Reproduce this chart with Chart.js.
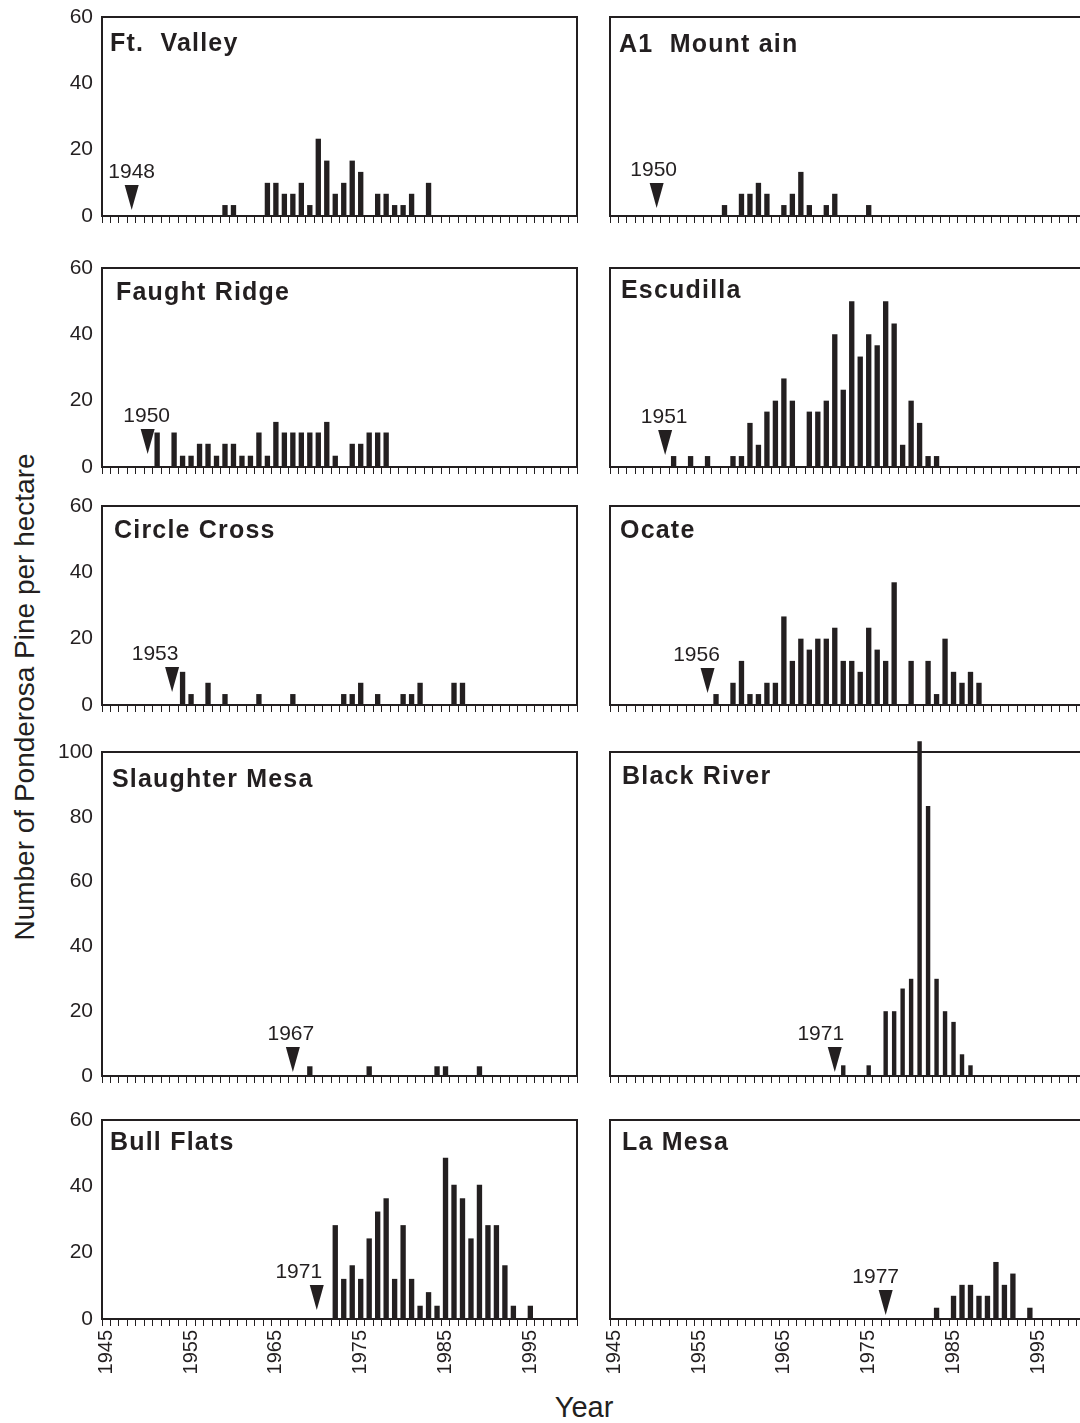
<!DOCTYPE html>
<html>
<head>
<meta charset="utf-8">
<script src="https://cdn.jsdelivr.net/npm/chart.js@4.4.0/dist/chart.umd.min.js"></script>
<style>
  html, body { margin: 0; padding: 0; background: #fff; overflow: hidden; }
  body { width: 1080px; height: 1423px; position: relative; font-family: 'Liberation Sans', Arial, Helvetica, sans-serif; color: #231f20; }
  canvas { position: absolute; }
  .ytitle { position: absolute; left: 25px; top: 697px; transform: translate(-50%, -50%) rotate(-90deg); font-size: 28px; white-space: nowrap; }
  .xtitle { position: absolute; left: 584px; top: 1407px; transform: translate(-50%, -50%); font-size: 29px; white-space: nowrap; }
</style>
</head>
<body>
<div class="ytitle">Number of Ponderosa Pine per hectare</div>
<div class="xtitle">Year</div>
<script>
// categories: one per year
const years = [1945, 1946, 1947, 1948, 1949, 1950, 1951, 1952, 1953, 1954,
  1955, 1956, 1957, 1958, 1959, 1960, 1961, 1962, 1963, 1964,
  1965, 1966, 1967, 1968, 1969, 1970, 1971, 1972, 1973, 1974,
  1975, 1976, 1977, 1978, 1979, 1980, 1981, 1982, 1983, 1984,
  1985, 1986, 1987, 1988, 1989, 1990, 1991, 1992, 1993, 1994,
  1995, 1996, 1997, 1998, 1999, 2000];
const xTickLabels = ['1945', '1955', '1965', '1975', '1985', '1995'];
const yTicksShort = [0, 20, 40, 60];
const yTicksTall = [0, 20, 40, 60, 80, 100];

const siteNames = ['Ft.  Valley', 'A1  Mount ain', 'Faught Ridge', 'Escudilla', 'Circle Cross',
  'Ocate', 'Slaughter Mesa', 'Black River', 'Bull Flats', 'La Mesa'];
const firstYears = [1948, 1950, 1950, 1951, 1953, 1956, 1967, 1971, 1971, 1977];

const ftValleyYears = [1959, 1960, 1964, 1965, 1966, 1967, 1968, 1969, 1970, 1971, 1972, 1973, 1974, 1975, 1977, 1978, 1979, 1980, 1981, 1983];
const ftValleyValues = [3.3, 3.3, 10, 10, 6.7, 6.7, 10, 3.3, 23.3, 16.7, 6.7, 10, 16.7, 13.3, 6.7, 6.7, 3.3, 3.3, 6.7, 10];

const a1MountainYears = [1958, 1960, 1961, 1962, 1963, 1965, 1966, 1967, 1968, 1970, 1971, 1975];
const a1MountainValues = [3.3, 6.7, 6.7, 10, 6.7, 3.3, 6.7, 13.3, 3.3, 3.3, 6.7, 3.3];

const faughtYears = [1951, 1953, 1954, 1955, 1956, 1957, 1958, 1959, 1960, 1961, 1962, 1963, 1964, 1965, 1966, 1967, 1968, 1969, 1970, 1971, 1972, 1974, 1975, 1976, 1977, 1978];
const faughtValues = [10.4, 10.4, 3.4, 3.4, 7, 7, 3.4, 7, 7, 3.4, 3.4, 10.4, 3.4, 13.6, 10.4, 10.4, 10.4, 10.4, 10.4, 13.6, 3.4, 7, 7, 10.4, 10.4, 10.4];

const escudillaYears = [1952, 1954, 1956, 1959, 1960, 1961, 1962, 1963, 1964, 1965, 1966, 1968, 1969, 1970, 1971, 1972, 1973, 1974, 1975, 1976, 1977, 1978, 1979, 1980, 1981, 1982, 1983];
const escudillaValues = [3.3, 3.3, 3.3, 3.3, 3.3, 13.3, 6.7, 16.7, 20, 26.7, 20, 16.7, 16.7, 20, 40, 23.3, 50, 33.3, 40, 36.7, 50, 43.3, 6.7, 20, 13.3, 3.3, 3.3];

const circleCrossYears = [1954, 1955, 1957, 1959, 1963, 1967, 1973, 1974, 1975, 1977, 1980, 1981, 1982, 1986, 1987];
const circleCrossValues = [10, 3.3, 6.7, 3.3, 3.3, 3.3, 3.3, 3.3, 6.7, 3.3, 3.3, 3.3, 6.7, 6.7, 6.7];

const ocateYears = [1957, 1959, 1960, 1961, 1962, 1963, 1964, 1965, 1966, 1967, 1968, 1969, 1970, 1971, 1972, 1973, 1974, 1975, 1976, 1977, 1978, 1980, 1982, 1983, 1984, 1985, 1986, 1987, 1988];
const ocateValues = [3.3, 6.7, 13.3, 3.3, 3.3, 6.7, 6.7, 26.7, 13.3, 20, 16.7, 20, 20, 23.3, 13.3, 13.3, 10, 23.3, 16.7, 13.3, 37, 13.3, 13.3, 3.3, 20, 10, 6.7, 10, 6.7];

const slaughterYears = [1969, 1976, 1984, 1985, 1989];
const slaughterValues = [3, 3, 3, 3, 3];

const blackRiverYears = [1972, 1975, 1977, 1978, 1979, 1980, 1981, 1982, 1983, 1984, 1985, 1986, 1987];
const blackRiverValues = [3.3, 3.3, 20, 20, 27, 30, 103.3, 83.3, 30, 20, 16.7, 6.7, 3.3];

const bullFlatsYears = [1972, 1973, 1974, 1975, 1976, 1977, 1978, 1979, 1980, 1981, 1982, 1983, 1984, 1985, 1986, 1987, 1988, 1989, 1990, 1991, 1992, 1993, 1995];
const bullFlatsValues = [28.3, 12.1, 16.2, 12.1, 24.3, 32.4, 36.4, 12.1, 28.3, 12.1, 4, 8.1, 4, 48.6, 40.5, 36.4, 24.3, 40.5, 28.3, 28.3, 16.2, 4, 4];

const laMesaYears = [1983, 1985, 1986, 1987, 1988, 1989, 1990, 1991, 1992, 1994];
const laMesaValues = [3.4, 7, 10.3, 10.3, 7, 7, 17.2, 10.3, 13.7, 3.4];

const INK = '#231f20';
const FONT = "'Liberation Sans', Arial, Helvetica, sans-serif";
Chart.defaults.font.family = FONT;
Chart.defaults.color = INK;

// page layout of the plot boxes
const colLeft = [102, 610];
const rowBox = [[17, 216], [268, 467], [506, 705], [752, 1076], [1120, 1319]];
const PLOT_W = 475;
const AXIS_W = 62, PAD_TOP = 20, PAD_RIGHT = 10;

// tx/ty: site name offset, lift: marker tip above axis,
// mdx: marker shift from its year, ldx: year text shift from its year
const panels = [
  { yrs: ftValleyYears, vals: ftValleyValues, col: 0, row: 0, tx: 8, ty: 34, lift: 6, mdx: 0, ldx: 0 },
  { yrs: a1MountainYears, vals: a1MountainValues, col: 1, row: 0, tx: 9, ty: 35, lift: 8, mdx: 0, ldx: -3 },
  { yrs: faughtYears, vals: faughtValues, col: 0, row: 1, tx: 14, ty: 32, lift: 13, mdx: -1, ldx: -2 },
  { yrs: escudillaYears, vals: escudillaValues, col: 1, row: 1, tx: 11, ty: 30, lift: 12, mdx: 0, ldx: -1 },
  { yrs: circleCrossYears, vals: circleCrossValues, col: 0, row: 2, tx: 12, ty: 32, lift: 13, mdx: -2, ldx: -19 },
  { yrs: ocateYears, vals: ocateValues, col: 1, row: 2, tx: 10, ty: 32, lift: 12, mdx: 0, ldx: -11 },
  { yrs: slaughterYears, vals: slaughterValues, col: 0, row: 3, tx: 10, ty: 35, lift: 4, mdx: 0, ldx: -2, tall: true },
  { yrs: blackRiverYears, vals: blackRiverValues, col: 1, row: 3, tx: 12, ty: 32, lift: 4, mdx: 0, ldx: -14, tall: true, thin: true },
  { yrs: bullFlatsYears, vals: bullFlatsValues, col: 0, row: 4, tx: 8, ty: 30, lift: 9, mdx: -10, ldx: -28 },
  { yrs: laMesaYears, vals: laMesaValues, col: 1, row: 4, tx: 12, ty: 30, lift: 4, mdx: 0, ldx: -10 }
];

const framePlugin = {
  id: 'frame',
  beforeDatasetsDraw(chart) {
    const { ctx, chartArea: a } = chart;
    ctx.save();
    ctx.strokeStyle = INK;
    ctx.lineWidth = 2;
    ctx.strokeRect(a.left, a.top, a.right - a.left, a.bottom - a.top);
    ctx.restore();
  }
};

const labelPlugin = {
  id: 'siteLabel',
  afterDatasetsDraw(chart, args, opts) {
    const { ctx, chartArea: a } = chart;
    const xs = chart.scales.x, ys = chart.scales.y;
    ctx.save();
    ctx.fillStyle = INK;
    // site name
    ctx.font = 'bold 25px ' + FONT;
    ctx.letterSpacing = '1.2px';
    ctx.textAlign = 'left';
    ctx.textBaseline = 'alphabetic';
    ctx.fillText(opts.name, a.left + opts.tx, a.top + opts.ty);
    // first-year marker
    const cx = xs.getPixelForValue(years.indexOf(opts.year));
    const x = cx + opts.mdx;
    const tip = ys.getPixelForValue(0) - opts.lift;
    const top = tip - 25;
    ctx.beginPath();
    ctx.moveTo(x - 7, top);
    ctx.lineTo(x + 7, top);
    ctx.lineTo(x, tip);
    ctx.closePath();
    ctx.fill();
    ctx.letterSpacing = '0px';
    ctx.font = '21px ' + FONT;
    ctx.textAlign = 'center';
    ctx.fillText(String(opts.year), cx + opts.ldx, top - 7);
    ctx.restore();
  }
};

panels.forEach((p, i) => {
  const [top, bottom] = rowBox[p.row];
  const bottomRow = p.row === 4;
  const bottomRoom = bottomRow ? 70 : 14;
  const W = AXIS_W + PLOT_W + PAD_RIGHT;
  const H = PAD_TOP + (bottom - top) + bottomRoom;
  const cv = document.createElement('canvas');
  cv.width = W;
  cv.height = H;
  cv.style.width = W + 'px';
  cv.style.height = H + 'px';
  cv.style.left = (colLeft[p.col] - AXIS_W) + 'px';
  cv.style.top = (top - PAD_TOP) + 'px';
  document.body.appendChild(cv);

  const series = years.map((y) => {
    const k = p.yrs.indexOf(y);
    return k >= 0 ? p.vals[k] : null;
  });
  const yTicks = p.tall ? yTicksTall : yTicksShort;

  new Chart(cv, {
    type: 'bar',
    data: {
      labels: years.map(String),
      datasets: [{
        data: series,
        backgroundColor: INK,
        borderWidth: 0,
        barPercentage: p.thin ? 0.52 : 0.63,
        categoryPercentage: 1,
        clip: false
      }]
    },
    options: {
      responsive: false,
      animation: false,
      devicePixelRatio: 1,
      layout: { padding: { top: PAD_TOP, right: PAD_RIGHT, left: 0, bottom: 0 } },
      plugins: {
        legend: { display: false },
        tooltip: { enabled: false },
        siteLabel: { name: siteNames[i], year: firstYears[i], tx: p.tx, ty: p.ty, lift: p.lift, mdx: p.mdx, ldx: p.ldx }
      },
      scales: {
        x: {
          offset: true,
          grid: { display: true, offset: true, drawOnChartArea: false, drawTicks: true, tickLength: 7, color: INK, lineWidth: 1 },
          border: { display: false },
          ticks: {
            display: bottomRow,
            autoSkip: false,
            maxRotation: 90,
            minRotation: 90,
            padding: 4,
            color: INK,
            font: { size: 20 },
            callback: (v, idx) => (xTickLabels.includes(String(years[idx])) ? String(years[idx]) : '')
          },
          afterFit: (s) => {
            s.height = bottomRoom;
            s.paddingLeft = 0;
            s.paddingRight = 0;
          }
        },
        y: {
          min: 0,
          max: yTicks[yTicks.length - 1],
          grid: { display: false, drawTicks: false },
          border: { display: false },
          ticks: { display: p.col === 0, padding: 9, color: INK, font: { size: 21 } },
          afterBuildTicks: (s) => { s.ticks = yTicks.map((v) => ({ value: v })); },
          afterFit: (s) => {
            s.width = AXIS_W;
            s.paddingTop = 0;
            s.paddingBottom = 0;
          }
        }
      }
    },
    plugins: [framePlugin, labelPlugin]
  });
});
</script>
</body>
</html>
